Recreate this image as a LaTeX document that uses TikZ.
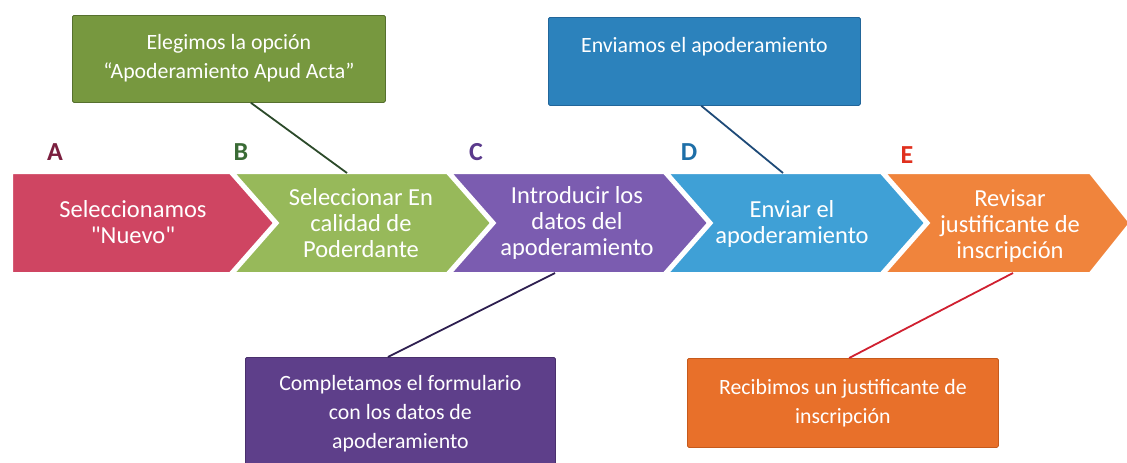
\documentclass[tikz,border=0pt]{standalone}
\usepackage{fontspec}
\setmainfont{Carlito}[Ligatures=TeXOff]
\usetikzlibrary{calc}
\definecolor{chA}{HTML}{CF4562}
\definecolor{chB}{HTML}{97B95A}
\definecolor{chC}{HTML}{7B5CB0}
\definecolor{chD}{HTML}{3FA0D6}
\definecolor{chE}{HTML}{F0843C}
\definecolor{lbA}{HTML}{7B1F3F}
\definecolor{lbB}{HTML}{3A6B35}
\definecolor{lbC}{HTML}{5B3A8C}
\definecolor{lbD}{HTML}{1E6FA8}
\definecolor{lbE}{HTML}{E0301E}
\definecolor{bxG}{HTML}{77983F}
\definecolor{bxGd}{HTML}{56702E}
\definecolor{bxB}{HTML}{2C82BC}
\definecolor{bxBd}{HTML}{22669A}
\definecolor{bxP}{HTML}{5E3F8A}
\definecolor{bxPd}{HTML}{49306C}
\definecolor{bxO}{HTML}{E8702A}
\definecolor{bxOd}{HTML}{C65A1C}
\definecolor{lnG}{HTML}{2C4A2A}
\definecolor{lnB}{HTML}{1E4A78}
\definecolor{lnP}{HTML}{2E1F50}
\definecolor{lnO}{HTML}{D02030}
\begin{document}
\begin{tikzpicture}[x=1pt,y=-1pt,
  chev/.style={draw=white, line width=2pt, line join=miter},
  chevtext/.style={text=white, align=center, font=\fontsize{24.5}{26}\selectfont},
  steplabel/.style={font=\bfseries\fontsize{26}{28}\selectfont},
  notebox/.style={rounded corners=1.5pt, inner sep=0pt, text=white, line width=0.8pt, anchor=north west,
    font=\fontsize{21.8}{29}\selectfont},
  link/.style={line width=1.8pt}]
\useasboundingbox (0,0) rectangle (1127,463);
\clip (0,0) rectangle (1127,463);
\fill[white] (0,0) rectangle (1127,463);

% chevrons
\fill[chA, chev] (12,173) -- (230,173) -- (274,223) -- (230,273) -- (12,273) -- cycle;
\fill[chB, chev] (234,173) -- (447,173) -- (491,223) -- (447,273) -- (234,273) -- (278,223) -- cycle;
\fill[chC, chev] (451,173) -- (664,173) -- (708,223) -- (664,273) -- (451,273) -- (495,223) -- cycle;
\fill[chD, chev] (668,173) -- (881,173) -- (925,223) -- (881,273) -- (668,273) -- (712,223) -- cycle;
\fill[chE, chev] (885,173) -- (1090,173) -- (1130,223) -- (1090,273) -- (885,273) -- (929,223) -- cycle;

\coordinate (Bt) at (347,173);
\coordinate (Cb) at (555,273);
\coordinate (Dt) at (783,173);
\coordinate (Eb) at (1013,273);

\node[chevtext] (tA) at (133,222) {Seleccionamos\\"Nuevo"};
\node[chevtext] (tB) at (361,223) {Seleccionar En\\calidad de\\Poderdante};
\node[chevtext] (tC) at (577,223) {Introducir los\\datos del\\apoderamiento};
\node[chevtext] (tD) at (792,224) {Enviar el\\apoderamiento};
\node[chevtext] (tE) at (1010,226) {Revisar\\justificante de\\inscripción};

% step letters
\node[steplabel, text=lbA] (lA) at (55,152) {A};
\node[steplabel, text=lbB] (lB) at (241,152) {B};
\node[steplabel, text=lbC] (lC) at (476,152) {C};
\node[steplabel, text=lbD] (lD) at (689,152) {D};
\node[steplabel, text=lbE] (lE) at (907,155) {E};

% note boxes
\node[notebox, fill=bxG, draw=bxGd] (nG) at (72,15)
  {\parbox[c][87pt][t]{313pt}{\centering\rule{0pt}{34pt}Elegimos la opción\\“Apoderamiento Apud Acta”}};
\node[notebox, fill=bxB, draw=bxBd] (nB) at (548,17)
  {\parbox[c][88pt][t]{312pt}{\centering\rule{0pt}{35pt}Enviamos el apoderamiento}};
\node[notebox, fill=bxP, draw=bxPd] (nP) at (245,357)
  {\parbox[c][120pt][t]{310pt}{\centering\rule{0pt}{33pt}Completamos el formulario\\con los datos de\\apoderamiento}};
\node[notebox, fill=bxO, draw=bxOd] (nO) at (687,358)
  {\parbox[c][89pt][t]{311pt}{\centering\rule{0pt}{36pt}Recibimos un justificante de\\inscripción}};

% connectors
\draw[link, lnG] ($(nG.south west)!0.57!(nG.south east)$) -- (Bt);
\draw[link, lnB] ($(nB.south west)!0.49!(nB.south east)$) -- (Dt);
\draw[link, lnP] ($(nP.north west)!0.46!(nP.north east)$) -- (Cb);
\draw[link, lnO] ($(nO.north west)!0.52!(nO.north east)$) -- (Eb);
\end{tikzpicture}
\end{document}
